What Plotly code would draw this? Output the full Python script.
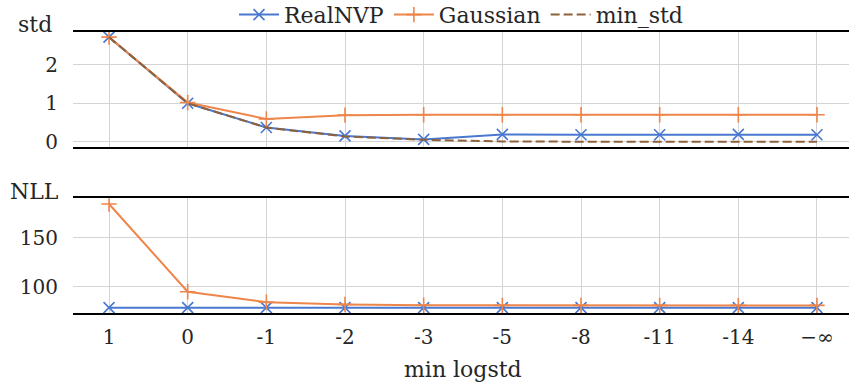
import plotly.graph_objects as go

categories = ["1", "0", "-1", "-2", "-3", "-5", "-8", "-11", "-14", "−∞"]
std_realnvp = [2.718, 1.0, 0.37, 0.15, 0.06, 0.19, 0.18, 0.18, 0.19, 0.18]
std_gaussian = [2.718, 1.02, 0.59, 0.69, 0.70, 0.70, 0.70, 0.70, 0.70, 0.70]
std_min = [2.718, 1.0, 0.368, 0.135, 0.050, 0.007, 0.0003, 0.00002, 0.000001, 0.0]
nll_realnvp = [79.0, 79.0, 79.0, 79.0, 79.0, 79.0, 79.0, 79.0, 79.0, 79.0]
nll_gaussian = [184.2, 95.2, 84.6, 82.3, 81.4, 81.3, 81.3, 81.3, 81.3, 81.3]

BLUE = "#4878d0"
ORANGE = "#ee854a"
BROWN = "#8c613c"
FONT = "DejaVu Serif"
TXT = "#262626"

xs = list(range(len(categories)))

fig = go.Figure()

def add(y, name, color, symbol, yaxis, xaxis, show, dash="solid", mode="lines+markers"):
    fig.add_trace(go.Scatter(
        x=xs, y=y, name=name, mode=mode, xaxis=xaxis, yaxis=yaxis,
        showlegend=show, legendgroup=name,
        line=dict(color=color, width=2, dash=dash),
        marker=dict(symbol=symbol, size=11, color=color,
                    line=dict(color=color, width=1.6)),
    ))

add(std_realnvp, "RealNVP", BLUE, "x-thin", "y", "x", True)
add(std_gaussian, "Gaussian", ORANGE, "cross-thin", "y", "x", True)
add(std_min, "min_std", BROWN, "circle", "y", "x", True, dash="9px,4px", mode="lines")
add(nll_realnvp, "RealNVP", BLUE, "x-thin", "y2", "x2", False)
add(nll_gaussian, "Gaussian", ORANGE, "cross-thin", "y2", "x2", False)

H = 387.0
top_dom = [1 - 146.7 / H, 1 - 31.7 / H]
bot_dom = [1 - 313.0 / H, 1 - 198.3 / H]
xr = [-0.458, 9.407]

xcommon = dict(range=xr, tickmode="array", tickvals=xs, ticktext=categories,
               showgrid=True, gridcolor="#d4d4d4", gridwidth=1.3,
               showline=True, mirror=True, linecolor="black", linewidth=1.6,
               zeroline=False, ticks="", domain=[0, 1], automargin=False,
               tickfont=dict(family=FONT, size=20, color=TXT))
ycommon = dict(showgrid=True, gridcolor="#d4d4d4", gridwidth=1.3,
               showline=False, zeroline=False, ticks="", ticklabelstandoff=14,
               automargin=False,
               tickfont=dict(family=FONT, size=20, color=TXT))

fig.update_layout(
    width=849, height=387,
    margin=dict(l=73, r=0, t=0, b=0, autoexpand=False),
    paper_bgcolor="white", plot_bgcolor="white",
    showlegend=True,
    font=dict(family=FONT),
    legend=dict(orientation="h", x=0.5, xanchor="center", xref="paper",
                y=1.016, yanchor="top", yref="paper",
                font=dict(family=FONT, size=22, color=TXT),
                bgcolor="rgba(0,0,0,0)", itemwidth=40, tracegroupgap=0),
    xaxis=dict(**xcommon, anchor="y", showticklabels=False),
    xaxis2=dict(**xcommon, anchor="y2", showticklabels=True, ticklabelstandoff=5),
    yaxis=dict(**ycommon, domain=top_dom, range=[-0.13, 2.86], tickvals=[0, 1, 2]),
    yaxis2=dict(**ycommon, domain=bot_dom, range=[73.6, 190], tickvals=[100, 150]),
    annotations=[
        dict(text="std", xref="paper", yref="paper", x=-0.0496, y=1 - 25 / H,
             xanchor="center", yanchor="middle", showarrow=False,
             font=dict(family=FONT, size=22, color=TXT)),
        dict(text="NLL", xref="paper", yref="paper", x=-0.0496, y=1 - 191 / H,
             xanchor="center", yanchor="middle", showarrow=False,
             font=dict(family=FONT, size=22, color=TXT)),
        dict(text="min logstd", xref="paper", yref="paper", x=0.502, y=1 - 369 / H,
             xanchor="center", yanchor="middle", showarrow=False,
             font=dict(family=FONT, size=22, color=TXT)),
    ],
)

fig.write_html("out.html")
